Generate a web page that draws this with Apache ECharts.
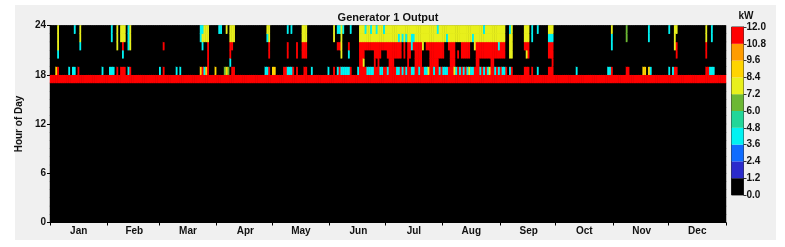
<!DOCTYPE html>
<html><head><meta charset="utf-8">
<script src="https://cdn.jsdelivr.net/npm/echarts@6/dist/echarts.min.js"></script>
<style>html,body{margin:0;padding:0;background:#fff}#c{width:785px;height:247px}</style>
</head><body><div id="c"></div>
<script>
// ---- data ----
const months = ['Jan','Feb','Mar','Apr','May','Jun','Jul','Aug','Sep','Oct','Nov','Dec'];
const monthStartDays = [0,31,59,90,120,151,181,212,243,273,304,334];
const dayCount = 365;
const hourCount = 24;
const hourTicks = [0,6,12,18,24];
const colorLevels = [0,1.2,2.4,3.6,4.8,6.0,7.2,8.4,9.6,10.8,12.0];
const levelColors = ['#000000','#2b2bcc','#0f6cff','#00f2f2','#22d699','#6cb834','#e8f01c','#ffd400','#ff9c00','#ff0000'];
// hour 17 (17:00-18:00) runs at full output every day
const fullLoadHour = 17;
const fullLoadValue = 11.6;
// code letters for kW levels
const codeChars  = '.bBctgyYor';
const codeValues = [0,1.8,3.0,4.2,5.4,6.6,7.8,9.0,10.2,11.4];
// [day, codes for hours 18,19,20,21,22,23]
const eveningColumns = [
 [3,'Y.....'],[4,'r.cyyy'],[10,'c.....'],[12,'c.....'],[13,'c....c'],[15,'r.....'],[16,'...cyy'],
 [28,'c.....'],[32,'c.....'],[33,'c...cc'],[34,'c.....'],[36,'r..yyy'],
 [38,'r...yy'],[39,'r.cryy'],[40,'r...yy'],[42,'c..ccc'],[43,'r..yyy'],
 [59,'c.....'],[61,'r..r..'],[68,'c.....'],[70,'c.....'],
 [81,'Y...cc'],[82,'r..cyc'],[83,'c...yy'],[84,'Y...yy'],[85,'rrrryy'],
 [89,'Y.....'],[91,'.....c'],[92,'.....c'],[94,'g.....'],[95,'Y....y'],[96,'g.....'],
 [97,'.crryy'],[98,'r..ryy'],[99,'r...yy'],
 [116,'c.....'],[117,'c...cy'],[118,'r.rryy'],[120,'Y.....'],[121,'Y.....'],
 [126,'r.....'],[127,'r.....'],[128,'c.rr.c'],[129,'c.....'],[130,'c....c'],[131,'r.....'],[133,'r.rr..'],
 [136,'..rryy'],[137,'r.rryy'],[138,'r.rryy'],[141,'c.....'],[150,'c.....'],
 [153,'r...yy'],[155,'c..r.c'],[156,'r..r.c'],[157,'c.yyyy'],[158,'c....c'],[159,'c.....'],[160,'c.....'],
 [161,'c.cr..'],[162,'r....c'],[166,'c.....'],
 [167,'rrrryy'],[168,'rrrryy'],[169,'ryrryy'],[170,'r..ryc'],[171,'c..ryy'],[172,'c..ryy'],[173,'c..ryc'],
 [174,'c..ryy'],[175,'rrrryy'],[176,'r.rryc'],[177,'rrrryy'],[178,'c.rryy'],[179,'c..ryy'],[180,'r..ryc'],
 [181,'r..ryy'],[182,'c.rryy'],[183,'rrrryy'],[184,'rrrryy'],[185,'rrrryy'],[186,'r.rryy'],[187,'c.rryy'],
 [188,'c.rrcy'],[189,'r.rryy'],[190,'c...cy'],[191,'r.rryy'],[192,'c...cy'],[193,'rrrryy'],[194,'r.rryy'],
 [195,'c..ccy'],[196,'c..rcy'],[197,'rrrryy'],[198,'rrrryy'],[199,'crrryy'],[200,'rrrryy'],[201,'r..yyy'],
 [202,'c...yy'],[203,'c..ryy'],[204,'y..ryy'],[205,'rrrryy'],[206,'rrrryy'],[207,'crrryy'],[208,'rrrryy'],
 [209,'rrrryc'],[210,'c.rryy'],[211,'r.rryy'],[212,'c.rryy'],[213,'c...yy'],[214,'c...cy'],[215,'r..ryy'],
 [216,'rrrryy'],[217,'rrrryy'],[218,'yrrryy'],[219,'c...yy'],[220,'r.r.yy'],[221,'c...yy'],[222,'r.rryy'],
 [223,'c.rryy'],[224,'r.rryy'],[225,'c.rryy'],[226,'y.rryy'],[227,'c...yy'],[228,'c...cy'],[229,'r..yyy'],
 [230,'rrrryy'],[231,'rrrryy'],[232,'c.rryy'],[233,'r.rryy'],[234,'c.rryc'],[235,'r.rryy'],[236,'c.rryy'],
 [237,'y.rryy'],[238,'rrrryy'],[239,'rrrryy'],[240,'c.rryy'],[241,'r.rryy'],[242,'c.rcyy'],[243,'r.rryy'],
 [244,'c.rryy'],[245,'c.rryy'],[246,'r.....'],
 [248,'c.yyyc'],[249,'r.yyyy'],[256,'r..ryy'],[257,'r.yryy'],[258,'r.rryy'],[260,'r...cc'],[263,'c....c'],
 [269,'r.rrcy'],[270,'r.rrcy'],[271,'rrrrcy'],[284,'c.....'],
 [301,'c.....'],[302,'c.....'],[303,'r..ccy'],[311,'r...gg'],[312,'r.....'],
 [320,'Y.....'],[321,'Y.....'],[323,'Y...cc'],[324,'c.....'],[334,'c....c'],[336,'c.....'],
 [337,'r..yyy'],[338,'r.rr.y'],[354,'r.rryy'],[355,'r.....'],[356,'c.....'],[357,'c...cc'],[358,'c.....']
];

// ---- build grid of values ----
const days = [];
for (let d = 0; d < dayCount; d++) days.push(String(d + 1));
const hours = [];
for (let h = 0; h < hourCount; h++) hours.push(String(h));
const grid = [];
for (let d = 0; d < dayCount; d++) {
  const col = new Array(hourCount).fill(0);
  col[fullLoadHour] = fullLoadValue;
  grid.push(col);
}
eveningColumns.forEach(([d, codes]) => {
  for (let i = 0; i < codes.length; i++) grid[d][18 + i] = codeValues[codeChars.indexOf(codes[i])];
});
const heatData = [];
for (let d = 0; d < dayCount; d++) for (let h = 0; h < hourCount; h++) heatData.push([d, h, grid[d][h]]);

const labelDays = monthStartDays.map((s, i) => Math.floor((s + (i < 11 ? monthStartDays[i + 1] : dayCount)) / 2));

const pieces = [];
for (let i = 0; i < levelColors.length; i++) {
  const p = { gte: colorLevels[i], color: levelColors[i] };
  if (i < levelColors.length - 1) p.lt = colorLevels[i + 1]; else p.lte = colorLevels[i + 1];
  pieces.push(p);
}

const cbSeries = levelColors.map((c, i) => ({
  type: 'bar', xAxisIndex: 1, yAxisIndex: 2, stack: 'cb', silent: true,
  barWidth: '100%', data: [+(colorLevels[i + 1] - colorLevels[i]).toFixed(1)],
  itemStyle: { color: c }
}));

const font = 'Liberation Sans, Arial, sans-serif';
const chart = echarts.init(document.getElementById('c'), null, { renderer: 'canvas' });
chart.setOption({
  animation: false,
  backgroundColor: '#ffffff',
  graphic: [{ type: 'rect', z: -100, left: 15, top: 5, shape: { width: 761, height: 235 }, style: { fill: '#f0f0f0' } }],
  title: [
    { text: 'Generator 1 Output', left: 388, top: 12, padding: 0, textAlign: 'center',
      textStyle: { fontFamily: font, fontSize: 11, fontWeight: 'bold', color: '#111' } },
    { text: 'kW', left: 746, top: 11, padding: 0, textAlign: 'center',
      textStyle: { fontFamily: font, fontSize: 10, fontWeight: 'bold', color: '#111' } }
  ],
  grid: [
    { left: 50, top: 25.5, width: 676, height: 197, show: true, backgroundColor: '#000', borderColor: '#000', borderWidth: 0 },
    { left: 731.5, top: 27, width: 12, height: 168, show: true, borderColor: '#333', borderWidth: 1 }
  ],
  visualMap: { show: false, type: 'piecewise', seriesIndex: 0, dimension: 2, pieces: pieces },
  xAxis: [
    { type: 'category', gridIndex: 0, data: days, boundaryGap: true,
      axisLine: { lineStyle: { color: '#000' } },
      axisTick: { show: true, length: 3, lineStyle: { color: '#000' }, interval: (i) => monthStartDays.includes(i) },
      axisLabel: { interval: (i) => labelDays.includes(i), formatter: (v, i) => months[labelDays.indexOf(i)] || '',
        fontFamily: font, fontSize: 10, fontWeight: 'bold', color: '#111', margin: 4 },
      splitLine: { show: false } },
    { type: 'category', gridIndex: 1, data: ['kW'], show: false, boundaryGap: true }
  ],
  yAxis: [
    { type: 'category', gridIndex: 0, data: hours, show: false, boundaryGap: true },
    { type: 'value', gridIndex: 0, min: 0, max: 24, interval: 6, position: 'left',
      name: 'Hour of Day', nameLocation: 'middle', nameGap: 16, nameRotate: 90,
      nameTextStyle: { fontFamily: font, fontSize: 10, fontWeight: 'bold', color: '#111' },
      axisLine: { show: true, lineStyle: { color: '#000' } },
      axisTick: { show: true, length: 3, lineStyle: { color: '#000' } },
      axisLabel: { fontFamily: font, fontSize: 10, fontWeight: 'bold', color: '#111', margin: 4 },
      splitLine: { show: false } },
    { type: 'value', gridIndex: 1, min: 0, max: 12, interval: 1.2, position: 'right',
      axisLine: { show: true, lineStyle: { color: '#333' } },
      axisTick: { show: true, length: 3, lineStyle: { color: '#333' } },
      axisLabel: { formatter: (v) => v.toFixed(1), fontFamily: font, fontSize: 10, fontWeight: 'bold', color: '#111', margin: 3 },
      splitLine: { show: false } }
  ],
  series: [
    { type: 'heatmap', xAxisIndex: 0, yAxisIndex: 0, data: heatData, progressive: 0, silent: true,
      emphasis: { disabled: true } },
    ...cbSeries
  ]
});
</script></body></html>
